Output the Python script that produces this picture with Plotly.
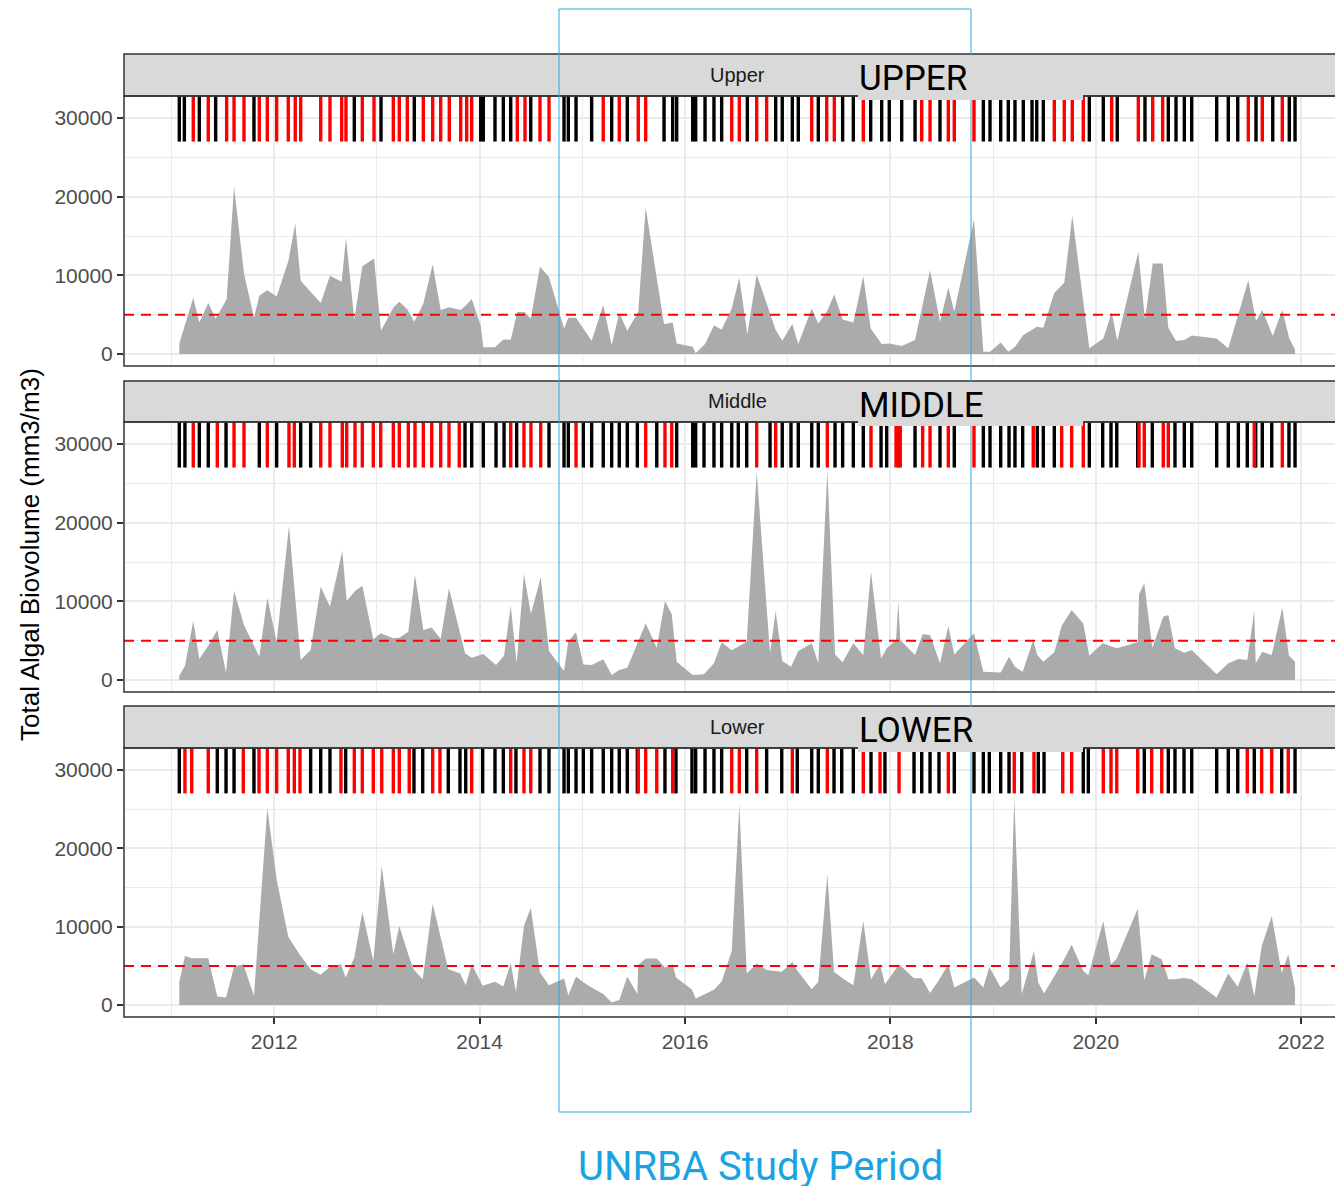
"""Total algal biovolume by lake segment, with threshold exceedance barcode."""

import plotly.graph_objects as go

THRESHOLD = 5000      # mm3/m3 reference level (red dashed line)
BAR_BOTTOM = 27000    # barcode strip drawn from here to the top of each panel
BAR_TOP = 40000

YEAR_TICKS = [2012, 2014, 2016, 2018, 2020, 2022]
YEAR_MINOR = [2011, 2013, 2015, 2017, 2019, 2021]
Y_TICKS = [0, 10000, 20000, 30000]
Y_MINOR = [5000, 15000, 25000]

upper_dates = [
    2011.076, 2011.125, 2011.212, 2011.271, 2011.358, 2011.430, 2011.537, 2011.609, 2011.706, 2011.803,
    2011.855, 2011.933, 2012.024, 2012.137, 2012.205, 2012.258, 2012.453, 2012.543, 2012.657, 2012.699,
    2012.780, 2012.858, 2012.972, 2013.040, 2013.160, 2013.218, 2013.296, 2013.364, 2013.452, 2013.543,
    2013.621, 2013.705, 2013.816, 2013.874, 2013.923, 2014.011, 2014.036, 2014.150, 2014.231, 2014.303,
    2014.367, 2014.442, 2014.498, 2014.588, 2014.676, 2014.822, 2014.864, 2014.939, 2015.091, 2015.204,
    2015.286, 2015.360, 2015.438, 2015.545, 2015.617, 2015.796, 2015.880, 2015.919, 2016.075, 2016.104,
    2016.195, 2016.282, 2016.357, 2016.455, 2016.529, 2016.607, 2016.698, 2016.795, 2016.883, 2016.947,
    2017.045, 2017.103, 2017.234, 2017.298, 2017.380, 2017.454, 2017.535, 2017.639, 2017.736, 2017.808,
    2017.915, 2017.989, 2018.110, 2018.240, 2018.305, 2018.386, 2018.483, 2018.564, 2018.622, 2018.814,
    2018.905, 2018.970, 2019.074, 2019.148, 2019.213, 2019.294, 2019.379, 2019.425, 2019.489, 2019.596,
    2019.693, 2019.771, 2019.878, 2019.937, 2020.073, 2020.155, 2020.209, 2020.414, 2020.479, 2020.554,
    2020.651, 2020.706, 2020.781, 2020.862, 2020.934, 2021.177, 2021.290, 2021.382, 2021.485, 2021.560,
    2021.621, 2021.723, 2021.816, 2021.884, 2021.940,
]
upper_vals = [
    1350, 3400, 7150, 4000, 6500, 4500, 6950, 21250, 10250, 4600,
    7400, 8100, 7300, 11800, 16600, 9300, 6500, 9950, 9200, 14750,
    4400, 11150, 12150, 2950, 5900, 6650, 5700, 4100, 6400, 11400,
    5600, 5950, 5600, 6300, 7000, 3600, 850, 850, 1850, 1800,
    5350, 5300, 4500, 11100, 9800, 3260, 4610, 4610, 1690, 6220,
    1140, 5200, 2960, 5370, 18620, 3770, 4020, 1350, 930, 85,
    1270, 3640, 3130, 5800, 9730, 2500, 10110, 6430, 3050, 1690,
    3810, 1270, 5800, 3890, 5370, 7570, 4400, 4020, 9900, 3260,
    1270, 1350, 1020, 1780, 5700, 10660, 4100, 8460, 5370, 17100,
    300, 300, 1480, 300, 930, 2410, 3100, 3470, 3340, 7790,
    9060, 17560, 6700, 720, 1990, 5290, 1690, 12990, 4400, 11510,
    11510, 3340, 1690, 1780, 2370, 1990, 720, 4770, 9390, 4190,
    5590, 2290, 5590, 1990, 590,
]

middle_dates = [
    2011.076, 2011.131, 2011.212, 2011.271, 2011.358, 2011.446, 2011.531, 2011.609, 2011.706, 2011.855,
    2011.933, 2012.024, 2012.144, 2012.196, 2012.258, 2012.355, 2012.453, 2012.543, 2012.663, 2012.706,
    2012.787, 2012.858, 2012.965, 2013.037, 2013.160, 2013.218, 2013.306, 2013.371, 2013.452, 2013.534,
    2013.621, 2013.702, 2013.802, 2013.858, 2013.923, 2014.036, 2014.160, 2014.238, 2014.303, 2014.361,
    2014.432, 2014.500, 2014.595, 2014.676, 2014.822, 2014.864, 2014.939, 2015.010, 2015.091, 2015.204,
    2015.286, 2015.360, 2015.438, 2015.536, 2015.617, 2015.725, 2015.805, 2015.871, 2015.919, 2016.075,
    2016.104, 2016.185, 2016.282, 2016.357, 2016.455, 2016.519, 2016.601, 2016.698, 2016.828, 2016.883,
    2016.947, 2017.032, 2017.103, 2017.234, 2017.298, 2017.386, 2017.461, 2017.535, 2017.639, 2017.736,
    2017.811, 2017.909, 2017.964, 2018.055, 2018.077, 2018.096, 2018.240, 2018.314, 2018.386, 2018.483,
    2018.564, 2018.622, 2018.814, 2018.905, 2018.970, 2019.074, 2019.155, 2019.213, 2019.288, 2019.391,
    2019.430, 2019.489, 2019.596, 2019.668, 2019.765, 2019.878, 2019.937, 2020.067, 2020.148, 2020.204,
    2020.408, 2020.421, 2020.472, 2020.550, 2020.657, 2020.706, 2020.771, 2020.862, 2020.934, 2021.177,
    2021.290, 2021.388, 2021.475, 2021.543, 2021.557, 2021.621, 2021.713, 2021.816, 2021.881, 2021.940,
]
middle_vals = [
    550, 1820, 7500, 2670, 4360, 6360, 970, 11310, 6990, 2970,
    10470, 4870, 19580, 11800, 2540, 3810, 11860, 9320, 16400, 10040,
    11310, 11990, 5170, 5930, 5300, 5380, 6140, 13350, 6360, 6690,
    5210, 11650, 6300, 3390, 2840, 3310, 1910, 3090, 9450, 2120,
    13470, 8390, 13050, 3690, 1140, 4900, 6060, 1990, 1910, 2630,
    640, 1270, 1570, 4640, 7200, 4110, 10040, 8350, 2330, 640,
    640, 720, 2120, 4790, 3770, 4300, 4870, 26480, 3390, 8770,
    2420, 1690, 3690, 4660, 2120, 26700, 3260, 2250, 4660, 3180,
    13770, 2750, 4030, 5100, 9960, 5100, 3180, 5810, 5720, 2120,
    6860, 3260, 5930, 1060, 1060, 970, 2970, 1690, 1060, 5080,
    3180, 2330, 3520, 6910, 8900, 7200, 3090, 4660, 4300, 4030,
    4800, 10890, 12290, 4110, 8050, 8260, 4030, 3470, 3810, 720,
    2120, 2670, 2540, 8770, 2120, 3600, 3180, 9190, 3090, 2330,
]

lower_dates = [
    2011.076, 2011.131, 2011.197, 2011.358, 2011.446, 2011.531, 2011.609, 2011.699, 2011.803, 2011.852,
    2011.933, 2012.024, 2012.137, 2012.196, 2012.251, 2012.355, 2012.453, 2012.543, 2012.650, 2012.696,
    2012.780, 2012.858, 2012.965, 2013.047, 2013.160, 2013.218, 2013.315, 2013.361, 2013.446, 2013.543,
    2013.614, 2013.695, 2013.809, 2013.865, 2013.923, 2014.030, 2014.150, 2014.231, 2014.303, 2014.354,
    2014.432, 2014.498, 2014.588, 2014.676, 2014.822, 2014.864, 2014.939, 2015.010, 2015.091, 2015.204,
    2015.286, 2015.360, 2015.438, 2015.536, 2015.545, 2015.617, 2015.725, 2015.805, 2015.880, 2015.912,
    2016.068, 2016.104, 2016.195, 2016.282, 2016.357, 2016.455, 2016.529, 2016.601, 2016.698, 2016.795,
    2016.942, 2017.045, 2017.093, 2017.234, 2017.298, 2017.386, 2017.451, 2017.526, 2017.639, 2017.736,
    2017.811, 2017.899, 2017.947, 2018.084, 2018.230, 2018.305, 2018.386, 2018.473, 2018.564, 2018.622,
    2018.814, 2018.905, 2018.963, 2019.074, 2019.155, 2019.206, 2019.279, 2019.398, 2019.440, 2019.496,
    2019.678, 2019.765, 2019.878, 2019.927, 2020.073, 2020.148, 2020.204, 2020.408, 2020.472, 2020.544,
    2020.642, 2020.706, 2020.771, 2020.859, 2020.934, 2021.177, 2021.290, 2021.382, 2021.475, 2021.543,
    2021.615, 2021.713, 2021.810, 2021.874, 2021.940,
]
lower_vals = [
    2970, 6270, 5970, 5970, 1100, 970, 4900, 5210, 1190, 10000,
    25130, 16020, 8730, 7500, 6400, 4580, 3860, 4900, 5200, 3520,
    6060, 11860, 5640, 17710, 6480, 10080, 6060, 4500, 3310, 12920,
    9000, 4580, 4070, 2540, 5210, 2460, 2970, 2370, 5340, 1690,
    10080, 12420, 4150, 2540, 3390, 1270, 3640, 2900, 2250, 1400,
    340, 640, 3640, 1400, 5100, 5930, 5930, 4790, 5210, 3520,
    2000, 850, 1400, 1950, 3000, 6910, 25550, 4030, 5300, 4490,
    4240, 5510, 4400, 2030, 2970, 16650, 4240, 3500, 2540, 10720,
    3310, 5200, 2670, 5200, 3430, 3430, 1530, 3200, 5200, 2250,
    3520, 2250, 4870, 2250, 3260, 26480, 1400, 6910, 2880, 1480,
    5500, 7710, 4360, 3810, 10680, 5170, 5930, 12290, 3180, 6480,
    5850, 3310, 3310, 3470, 3300, 970, 4030, 2330, 5420, 1140,
    7500, 11360, 4110, 6440, 2120,
]

X_RANGE = [2010.5375, 2022.407]
Y_RANGE = [-1520, 32790]

# the page adds an 8px body margin, so the figure is laid out 8px smaller
OFFSET = 8
W, H = 1343 - OFFSET, 1186 - OFFSET
LEFT = 124 - OFFSET
PLOT_W = W - LEFT


def px(x):
    """Screen x pixel -> paper x."""
    return (x - OFFSET - LEFT) / PLOT_W


def py(y):
    """Screen y pixel -> paper y."""
    return 1 - (y - OFFSET) / H


FONT = "Liberation Sans"
LABEL_FONT = "Roboto"
STRIP_GREY = "#D9D9D9"
BORDER = "#333333"
GRID = "#EBEBEB"
STUDY_BLUE = "#29ABE2"

# (strip title, big label, dates, values, panel top/bottom px, strip top px)
panels = [
    ("Upper", "UPPER", upper_dates, upper_vals, 96, 366, 54),
    ("Middle", "MIDDLE", middle_dates, middle_vals, 422, 692, 381),
    ("Lower", "LOWER", lower_dates, lower_vals, 748, 1017, 706),
]

fig = go.Figure()
shapes = []
annotations = []
label_shapes = []

for i, (strip, label, dates, vals, top, bottom, strip_top) in enumerate(panels, start=1):
    xa = "x" if i == 1 else f"x{i}"
    ya = "y" if i == 1 else f"y{i}"

    # biovolume area
    fig.add_trace(go.Scatter(
        x=dates, y=vals, mode="lines", fill="tozeroy",
        fillcolor="#ABABAB", line=dict(width=0, color="#ABABAB"),
        xaxis=xa, yaxis=ya, hoverinfo="skip", showlegend=False,
    ))

    # threshold
    fig.add_trace(go.Scatter(
        x=X_RANGE, y=[THRESHOLD, THRESHOLD], mode="lines",
        line=dict(color="red", width=2, dash="10px,7px"),
        xaxis=xa, yaxis=ya, hoverinfo="skip", showlegend=False,
    ))

    # barcode of sampling dates, red when above threshold
    for color, above in (("black", False), ("red", True)):
        bx, by = [], []
        for d, v in zip(dates, vals):
            if (v > THRESHOLD) == above:
                bx += [d, d, None]
                by += [BAR_BOTTOM, BAR_TOP, None]
        fig.add_trace(go.Scatter(
            x=bx, y=by, mode="lines", line=dict(color=color, width=3.4),
            xaxis=xa, yaxis=ya, hoverinfo="skip", showlegend=False,
        ))

    fig.layout[f"xaxis{'' if i == 1 else i}"] = dict(
        domain=[0, 1], range=X_RANGE, anchor=ya,
        tickmode="array", tickvals=YEAR_TICKS, ticktext=[str(t) for t in YEAR_TICKS],
        showticklabels=(i == 3), ticks="outside" if i == 3 else "",
        ticklen=6, tickwidth=1.5, tickcolor=BORDER,
        tickfont=dict(family=FONT, size=21, color="#4D4D4D"),
        showgrid=True, gridcolor=GRID, gridwidth=1.5,
        minor=dict(tickmode="array", tickvals=YEAR_MINOR, showgrid=True,
                   gridcolor=GRID, gridwidth=0.8, ticks=""),
        zeroline=False, showline=False,
    )
    fig.layout[f"yaxis{'' if i == 1 else i}"] = dict(
        domain=[py(bottom), py(top)], range=Y_RANGE, anchor=xa,
        tickmode="array", tickvals=Y_TICKS, ticktext=[str(t) for t in Y_TICKS],
        ticks="outside", ticklen=6, tickwidth=1.5, tickcolor=BORDER,
        tickfont=dict(family=FONT, size=21, color="#4D4D4D"),
        showgrid=True, gridcolor=GRID, gridwidth=1.5,
        minor=dict(tickmode="array", tickvals=Y_MINOR, showgrid=True,
                   gridcolor=GRID, gridwidth=0.8, ticks=""),
        zeroline=False, showline=False,
    )

    # strip
    shapes.append(dict(type="rect", xref="paper", yref="paper",
                       x0=0, x1=1.02, y0=py(top), y1=py(strip_top),
                       fillcolor=STRIP_GREY, line=dict(color=BORDER, width=1.5), layer="above"))
    # panel border
    shapes.append(dict(type="rect", xref="paper", yref="paper",
                       x0=0, x1=1.02, y0=py(bottom), y1=py(top),
                       line=dict(color=BORDER, width=1.5), layer="above"))
    annotations.append(dict(text=strip, xref="paper", yref="paper",
                            x=px(737.5), y=py((top + strip_top) / 2),
                            showarrow=False, xanchor="center", yanchor="middle",
                            font=dict(family=FONT, size=20, color="#1A1A1A")))

    # big segment label on its own grey box
    label_shapes.append(dict(type="rect", xref="paper", yref="paper",
                             x0=px(858), x1=px(1083), y0=py(top + 4), y1=py(strip_top + 1),
                             fillcolor=STRIP_GREY, line=dict(width=0), layer="above"))
    annotations.append(dict(text=label, xref="paper", yref="paper",
                            x=px(857), y=py(strip_top + 24),
                            showarrow=False, xanchor="left", yanchor="middle",
                            font=dict(family=LABEL_FONT, size=35, color="black")))

# study period frame
study_box = dict(type="rect", xref="paper", yref="paper",
                 x0=px(559), x1=px(971), y0=py(1112), y1=py(9),
                 line=dict(color=STUDY_BLUE, width=1), layer="above")

fig.update_layout(shapes=shapes + [study_box] + label_shapes)

annotations.append(dict(text="UNRBA Study Period", xref="paper", yref="paper",
                        x=px(760), y=py(1166), showarrow=False,
                        xanchor="center", yanchor="middle",
                        font=dict(family=LABEL_FONT, size=40, color="#1AA3E0")))
annotations.append(dict(text="Total Algal Biovolume (mm3/m3)", xref="paper", yref="paper",
                        x=px(30), y=py(555), showarrow=False, textangle=-90,
                        xanchor="center", yanchor="middle",
                        font=dict(family=FONT, size=26, color="black")))

fig.update_layout(
    annotations=annotations,
    width=W, height=H,
    margin=dict(l=LEFT, r=0, t=0, b=0),
    paper_bgcolor="white", plot_bgcolor="white",
    showlegend=False,
)

fig.write_html("out.html")
